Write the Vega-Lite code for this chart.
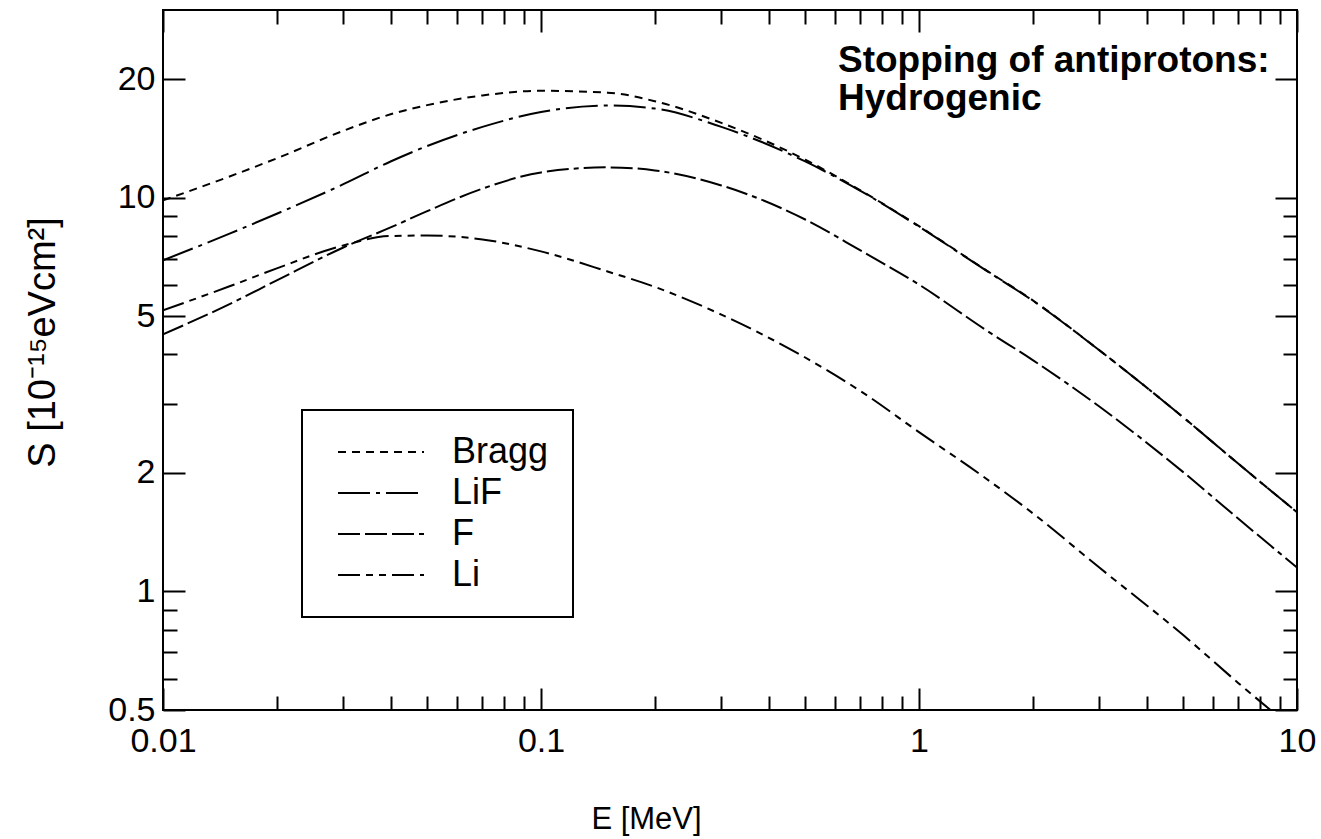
{
  "$schema": "https://vega.github.io/schema/vega-lite/v6.json",
  "width": 1134,
  "height": 700,
  "autosize": {"type": "none"},
  "padding": {"left": 163, "top": 10, "right": 24, "bottom": 129},
  "background": "white",
  "title": {
    "text": ["Stopping of antiprotons:", "Hydrogenic"],
    "anchor": "start",
    "frame": "group",
    "align": "left",
    "baseline": "bottom",
    "dx": 675,
    "offset": -146,
    "font": "Liberation Sans",
    "fontSize": 37,
    "fontWeight": "bold",
    "color": "black",
    "lineHeight": 38
  },
  "config": {
    "view": {"stroke": "black", "strokeWidth": 2},
    "font": "Liberation Sans",
    "axis": {
      "domain": false,
      "grid": false,
      "tickColor": "black",
      "tickWidth": 2,
      "labelColor": "black",
      "titleColor": "black",
      "labelFont": "Liberation Sans",
      "titleFont": "Liberation Sans",
      "labelFontSize": 34,
      "titleFontSize": 31,
      "titleFontWeight": "normal",
      "labelFlush": false,
      "labelOverlap": false,
      "format": "~g"
    }
  },
  "datasets": {
    "curves": [
      {"series": "Bragg", "E": 0.01, "S": 9.85},
      {"series": "Bragg", "E": 0.015, "S": 11.33},
      {"series": "Bragg", "E": 0.02, "S": 12.6},
      {"series": "Bragg", "E": 0.03, "S": 14.8},
      {"series": "Bragg", "E": 0.04, "S": 16.3},
      {"series": "Bragg", "E": 0.05, "S": 17.2},
      {"series": "Bragg", "E": 0.07, "S": 18.2},
      {"series": "Bragg", "E": 0.1, "S": 18.7},
      {"series": "Bragg", "E": 0.15, "S": 18.5},
      {"series": "Bragg", "E": 0.2, "S": 17.6},
      {"series": "Bragg", "E": 0.3, "S": 15.5},
      {"series": "Bragg", "E": 0.5, "S": 12.5},
      {"series": "Bragg", "E": 0.7, "S": 10.45},
      {"series": "Bragg", "E": 1, "S": 8.47},
      {"series": "Bragg", "E": 1.5, "S": 6.56},
      {"series": "Bragg", "E": 2, "S": 5.49},
      {"series": "Bragg", "E": 3, "S": 4.1},
      {"series": "Bragg", "E": 5, "S": 2.77},
      {"series": "Bragg", "E": 7, "S": 2.11},
      {"series": "Bragg", "E": 10, "S": 1.59},
      {"series": "LiF", "E": 0.01, "S": 6.94},
      {"series": "LiF", "E": 0.015, "S": 8.11},
      {"series": "LiF", "E": 0.02, "S": 9.11},
      {"series": "LiF", "E": 0.03, "S": 10.83},
      {"series": "LiF", "E": 0.04, "S": 12.37},
      {"series": "LiF", "E": 0.05, "S": 13.54},
      {"series": "LiF", "E": 0.07, "S": 15.14},
      {"series": "LiF", "E": 0.1, "S": 16.52},
      {"series": "LiF", "E": 0.15, "S": 17.16},
      {"series": "LiF", "E": 0.2, "S": 16.86},
      {"series": "LiF", "E": 0.3, "S": 15.14},
      {"series": "LiF", "E": 0.5, "S": 12.37},
      {"series": "LiF", "E": 0.7, "S": 10.42},
      {"series": "LiF", "E": 1, "S": 8.45},
      {"series": "LiF", "E": 1.5, "S": 6.55},
      {"series": "LiF", "E": 2, "S": 5.48},
      {"series": "LiF", "E": 3, "S": 4.1},
      {"series": "LiF", "E": 5, "S": 2.77},
      {"series": "LiF", "E": 7, "S": 2.11},
      {"series": "LiF", "E": 10, "S": 1.59},
      {"series": "F", "E": 0.01, "S": 4.5},
      {"series": "F", "E": 0.015, "S": 5.37},
      {"series": "F", "E": 0.02, "S": 6.17},
      {"series": "F", "E": 0.03, "S": 7.48},
      {"series": "F", "E": 0.04, "S": 8.41},
      {"series": "F", "E": 0.05, "S": 9.25},
      {"series": "F", "E": 0.07, "S": 10.55},
      {"series": "F", "E": 0.1, "S": 11.6},
      {"series": "F", "E": 0.15, "S": 11.95},
      {"series": "F", "E": 0.2, "S": 11.74},
      {"series": "F", "E": 0.3, "S": 10.75},
      {"series": "F", "E": 0.5, "S": 8.81},
      {"series": "F", "E": 0.7, "S": 7.35},
      {"series": "F", "E": 1, "S": 6.02},
      {"series": "F", "E": 1.5, "S": 4.62},
      {"series": "F", "E": 2, "S": 3.87},
      {"series": "F", "E": 3, "S": 2.95},
      {"series": "F", "E": 5, "S": 2.01},
      {"series": "F", "E": 7, "S": 1.53},
      {"series": "F", "E": 10, "S": 1.15},
      {"series": "Li", "E": 0.01, "S": 5.18},
      {"series": "Li", "E": 0.015, "S": 5.96},
      {"series": "Li", "E": 0.02, "S": 6.62},
      {"series": "Li", "E": 0.03, "S": 7.57},
      {"series": "Li", "E": 0.04, "S": 8.0},
      {"series": "Li", "E": 0.05, "S": 8.02},
      {"series": "Li", "E": 0.07, "S": 7.84},
      {"series": "Li", "E": 0.1, "S": 7.31},
      {"series": "Li", "E": 0.15, "S": 6.5},
      {"series": "Li", "E": 0.2, "S": 5.94},
      {"series": "Li", "E": 0.3, "S": 5.05},
      {"series": "Li", "E": 0.5, "S": 3.93},
      {"series": "Li", "E": 0.7, "S": 3.23},
      {"series": "Li", "E": 1, "S": 2.54},
      {"series": "Li", "E": 1.5, "S": 1.94},
      {"series": "Li", "E": 2, "S": 1.58},
      {"series": "Li", "E": 3, "S": 1.15},
      {"series": "Li", "E": 5, "S": 0.775},
      {"series": "Li", "E": 7, "S": 0.585},
      {"series": "Li", "E": 10, "S": 0.44}
    ]
  },
  "layer": [
    {
      "data": {"name": "curves"},
      "mark": {"type": "line", "clip": true, "interpolate": "monotone", "strokeWidth": 2, "color": "black"},
      "encoding": {
        "x": {
          "field": "E", "type": "quantitative",
          "scale": {"type": "log", "domain": [0.01, 10], "nice": false},
          "axis": {
            "orient": "bottom",
            "values": [0.01, 0.1, 1, 10],
            "tickSize": -22,
            "labelPadding": 36,
            "title": "E [MeV]",
            "titleX": 483,
            "titleY": 118,
            "titleAlign": "center",
            "titleBaseline": "alphabetic"
          }
        },
        "y": {
          "field": "S", "type": "quantitative",
          "scale": {"type": "log", "domain": [0.5, 30], "nice": false},
          "axis": {
            "orient": "left",
            "values": [0.5, 1, 2, 5, 10, 20],
            "tickSize": -22,
            "labelPadding": 30,
            "title": "S [10⁻¹⁵eVcm²]",
            "titleFontSize": 38,
            "titleX": -120,
            "titleY": 332,
            "titleAngle": -90,
            "titleAlign": "center",
            "titleBaseline": "middle"
          }
        },
        "strokeDash": {
          "field": "series", "type": "nominal",
          "scale": {
            "domain": ["Bragg", "LiF", "F", "Li"],
            "range": [[8, 6], [32, 6, 4, 6], [22, 5, 22, 5, 22, 5, 5, 5], [22, 6, 7, 6, 7, 6]]
          },
          "legend": {
            "orient": "none",
            "legendX": 139,
            "legendY": 400,
            "title": null,
            "symbolType": "M-0.6,0H8",
            "symbolSize": 400,
            "symbolStrokeWidth": 2,
            "symbolStrokeColor": "black",
            "symbolFillColor": "transparent",
            "labelFont": "Liberation Sans",
            "labelFontSize": 36,
            "labelColor": "black",
            "labelOffset": 90,
            "labelLimit": 0,
            "padding": 24,
            "rowPadding": 5,
            "strokeColor": "black",
            "fillColor": "white",
            "cornerRadius": 0,
            "encode": {"legend": {"update": {"strokeWidth": {"value": 2}}}}
          }
        }
      }
    },
    {
      "data": {"name": "curves"},
      "mark": {"type": "point", "opacity": 0},
      "encoding": {
        "x": {
          "field": "E", "type": "quantitative",
          "scale": {"type": "log", "domain": [0.01, 10], "nice": false},
          "axis": {"orient": "bottom", "values": [0.02, 0.03, 0.04, 0.05, 0.06, 0.07, 0.08, 0.09, 0.2, 0.3, 0.4, 0.5, 0.6, 0.7, 0.8, 0.9, 2, 3, 4, 5, 6, 7, 8, 9], "tickSize": -14, "labels": false, "title": null}
        },
        "y": {
          "field": "S", "type": "quantitative",
          "scale": {"type": "log", "domain": [0.5, 30], "nice": false},
          "axis": {"orient": "left", "values": [0.6, 0.7, 0.8, 0.9, 3, 4, 6, 7, 8, 9], "tickSize": -14, "labels": false, "title": null}
        }
      }
    },
    {
      "data": {"name": "curves"},
      "mark": {"type": "point", "opacity": 0},
      "encoding": {
        "x": {
          "field": "E", "type": "quantitative",
          "scale": {"type": "log", "domain": [0.01, 10], "nice": false},
          "axis": {"orient": "top", "values": [0.01, 0.1, 1, 10], "tickSize": -22, "labels": false, "title": null}
        },
        "y": {
          "field": "S", "type": "quantitative",
          "scale": {"type": "log", "domain": [0.5, 30], "nice": false},
          "axis": {"orient": "right", "values": [0.5, 1, 2, 5, 10, 20], "tickSize": -22, "labels": false, "title": null}
        }
      }
    },
    {
      "data": {"name": "curves"},
      "mark": {"type": "point", "opacity": 0},
      "encoding": {
        "x": {
          "field": "E", "type": "quantitative",
          "scale": {"type": "log", "domain": [0.01, 10], "nice": false},
          "axis": {"orient": "top", "values": [0.02, 0.03, 0.04, 0.05, 0.06, 0.07, 0.08, 0.09, 0.2, 0.3, 0.4, 0.5, 0.6, 0.7, 0.8, 0.9, 2, 3, 4, 5, 6, 7, 8, 9], "tickSize": -14, "labels": false, "title": null}
        },
        "y": {
          "field": "S", "type": "quantitative",
          "scale": {"type": "log", "domain": [0.5, 30], "nice": false},
          "axis": {"orient": "right", "values": [0.6, 0.7, 0.8, 0.9, 3, 4, 6, 7, 8, 9], "tickSize": -14, "labels": false, "title": null}
        }
      }
    }
  ],
  "resolve": {"axis": {"x": "independent", "y": "independent"}}
}
